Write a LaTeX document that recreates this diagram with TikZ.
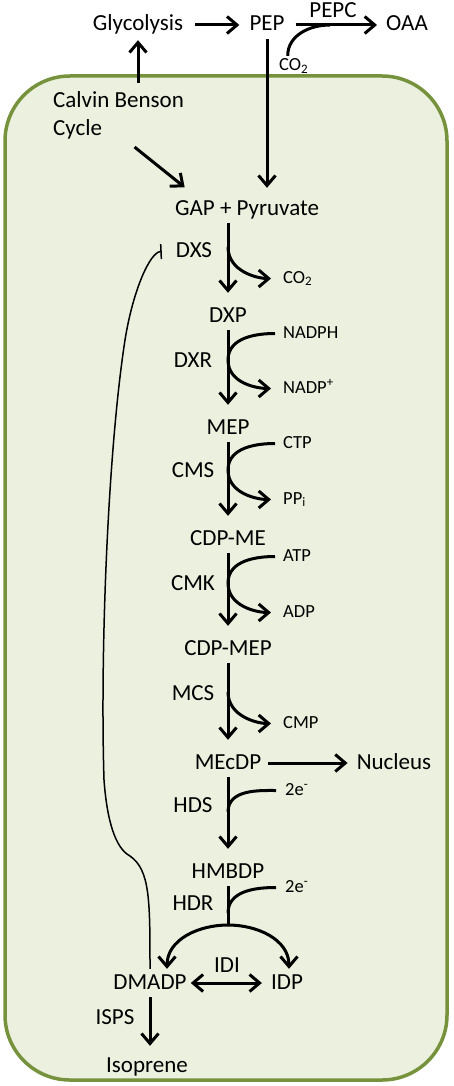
\documentclass[tikz,border=0pt]{standalone}
\usepackage{fontspec}
\setmainfont{Carlito}
\usetikzlibrary{arrows.meta}
\definecolor{stroma}{HTML}{EBF1DE}
\definecolor{envelope}{HTML}{76923C}
\newcommand{\labsz}{\fontsize{23}{28}\selectfont}
\newcommand{\subsz}{\fontsize{18.5}{22}\selectfont}

\begin{document}
\begin{tikzpicture}[x=1pt,y=-1pt,
  >={Straight Barb[length=10pt,width=17pt]},
  lbl/.style={font=\labsz, anchor=base, inner sep=3pt, text height=17pt, text depth=5pt},
  cof/.style={font=\subsz, anchor=base west, inner sep=2pt, text height=13pt, text depth=4pt},
  rxn/.style={line width=3pt, ->, shorten >=9pt},
  side/.style={line width=3pt, ->, shorten >=10pt},
  feed/.style={line width=3pt},
  inhib/.style={line width=1.5pt, -{Bar[width=15pt]}, shorten >=11pt}]
\useasboundingbox (0,0) rectangle (453,1086);
\draw[line width=3.5pt, draw=envelope, fill=stroma, rounded corners=65pt] (5,76) rectangle (447,1080);

\node[lbl] (glyc) at (138,31) {Glycolysis};
\node[lbl] (pep) at (267,31) {PEP};
\node[lbl] (oaa) at (407,31) {OAA};
\node[lbl] (pepc) at (333,18) {PEPC};
\node[cof] (co2t) at (277,71) {CO\textsubscript{2}};
\node[font=\labsz, align=left, anchor=north west, inner sep=8pt] (calvin) at (45,83) {Calvin Benson\\Cycle};
\node[lbl] (gap) at (247,215) {GAP + Pyruvate};
\node[lbl] (dxs) at (194,257) {DXS};
\node[lbl] (dxp) at (228,322) {DXP};
\node[lbl] (dxr) at (193,367) {DXR};
\node[lbl] (mep) at (228,434) {MEP};
\node[lbl] (cms) at (193,477) {CMS};
\node[lbl] (cdpme) at (228,545) {CDP-ME};
\node[lbl] (cmk) at (193,590) {CMK};
\node[lbl] (cdpmep) at (228,655) {CDP-MEP};
\node[lbl] (mcs) at (193,700) {MCS};
\node[lbl] (mecdp) at (228,769) {MEcDP};
\node[lbl] (nucl) at (394,769) {Nucleus};
\node[lbl] (hds) at (193,812) {HDS};
\node[lbl] (hmbdp) at (228,878) {HMBDP};
\node[lbl] (hdr) at (193,910) {HDR};
\node[lbl] (dmadp) at (150,989) {DMADP};
\node[lbl] (idp) at (287,989) {IDP};
\node[lbl] (idi) at (227,972) {IDI};
\node[lbl] (isps) at (115,1024) {ISPS};
\node[lbl] (isop) at (147,1072) {Isoprene};

\node[cof] (co2b) at (281,283) {CO\textsubscript{2}};
\node[cof] (nadph) at (281,338) {NADPH};
\node[cof] (nadpp) at (281,393) {NADP\textsuperscript{+}};
\node[cof] (ctp) at (281,448) {CTP};
\node[cof] (ppi) at (281,504) {PP\textsubscript{i}};
\node[cof] (atp) at (281,561) {ATP};
\node[cof] (adp) at (281,617) {ADP};
\node[cof] (cmp) at (281,728) {CMP};
\node[cof] (ea) at (283,795) {2e\textsuperscript{-}};
\node[cof] (eb) at (283,892) {2e\textsuperscript{-}};

\coordinate (m0) at (330,25);
\coordinate (j1) at (228,247);
\coordinate (j2) at (228,360);
\coordinate (j3) at (228,470);
\coordinate (j4) at (228,583);
\coordinate (j5) at (228,692);
\coordinate (j6) at (228,812);
\coordinate (j7) at (228,913);
\coordinate (jx) at (228,925);

\draw[rxn, shorten <=9pt, shorten >=7pt] (glyc) -- (pep);
\draw[rxn, shorten <=8pt, shorten >=6pt] (pep) -- (oaa);
\draw[feed] ([xshift=-6pt]co2t.north) to[out=90,in=180] (m0);
\draw[rxn, shorten >=1pt] (glyc.south |- calvin.north) -- (glyc.south);
\draw[rxn, shorten >=12pt] ([xshift=16pt]calvin.south) -- ([xshift=-53pt]gap.north);
\draw[rxn, shorten >=7pt] (pep.south) -- (pep.south |- gap.north);

\draw[rxn] (dxp.north |- gap.south) -- (dxp.north);
\draw[rxn] (dxp.south) -- (mep.north);
\draw[rxn] (mep.south) -- (cdpme.north);
\draw[rxn] (cdpme.south) -- (cdpmep.north);
\draw[rxn] (cdpmep.south) -- (mecdp.north);
\draw[rxn] (mecdp.south) -- (hmbdp.north);
\draw[feed] (hmbdp.south) -- (jx);

\draw[side] (j1) to[out=-90,in=180] (co2b.west);
\draw[side, shorten <=6pt] (nadph.west) to[out=180,in=90] (j2) to[out=-90,in=180] (nadpp.west);
\draw[side, shorten <=6pt] (ctp.west) to[out=180,in=90] (j3) to[out=-90,in=180] (ppi.west);
\draw[side, shorten <=6pt] (atp.west) to[out=180,in=90] (j4) to[out=-90,in=180] (adp.west);
\draw[side] (j5) to[out=-90,in=180] (cmp.west);
\draw[feed, shorten <=7pt] (ea.west) to[out=180,in=90] (j6);
\draw[feed, shorten <=7pt] (eb.west) to[out=180,in=90] (j7);

\draw[rxn, shorten <=4pt, shorten >=6pt] (mecdp) -- (nucl);
\draw[rxn, shorten >=0pt] (jx) to[out=180,in=90] ([xshift=17pt]dmadp.north);
\draw[rxn, shorten >=0pt] (jx) to[out=0,in=90] ([xshift=2pt]idp.north);
\draw[line width=3pt, <->, shorten <=1pt, shorten >=6pt] (dmadp) -- (idp);
\draw[rxn, shorten >=6pt] (dmadp.south) -- (dmadp.south |- isop.north);

\draw[inhib] (dmadp.north) .. controls (150,900) and (150,870) .. (130,856)
  .. controls (115,848) and (107,820) .. (104,780)
  .. controls (100,650) and (108,450) .. (125,340)
  .. controls (133,290) and (150,252) .. (dxs.west);
\end{tikzpicture}
\end{document}
